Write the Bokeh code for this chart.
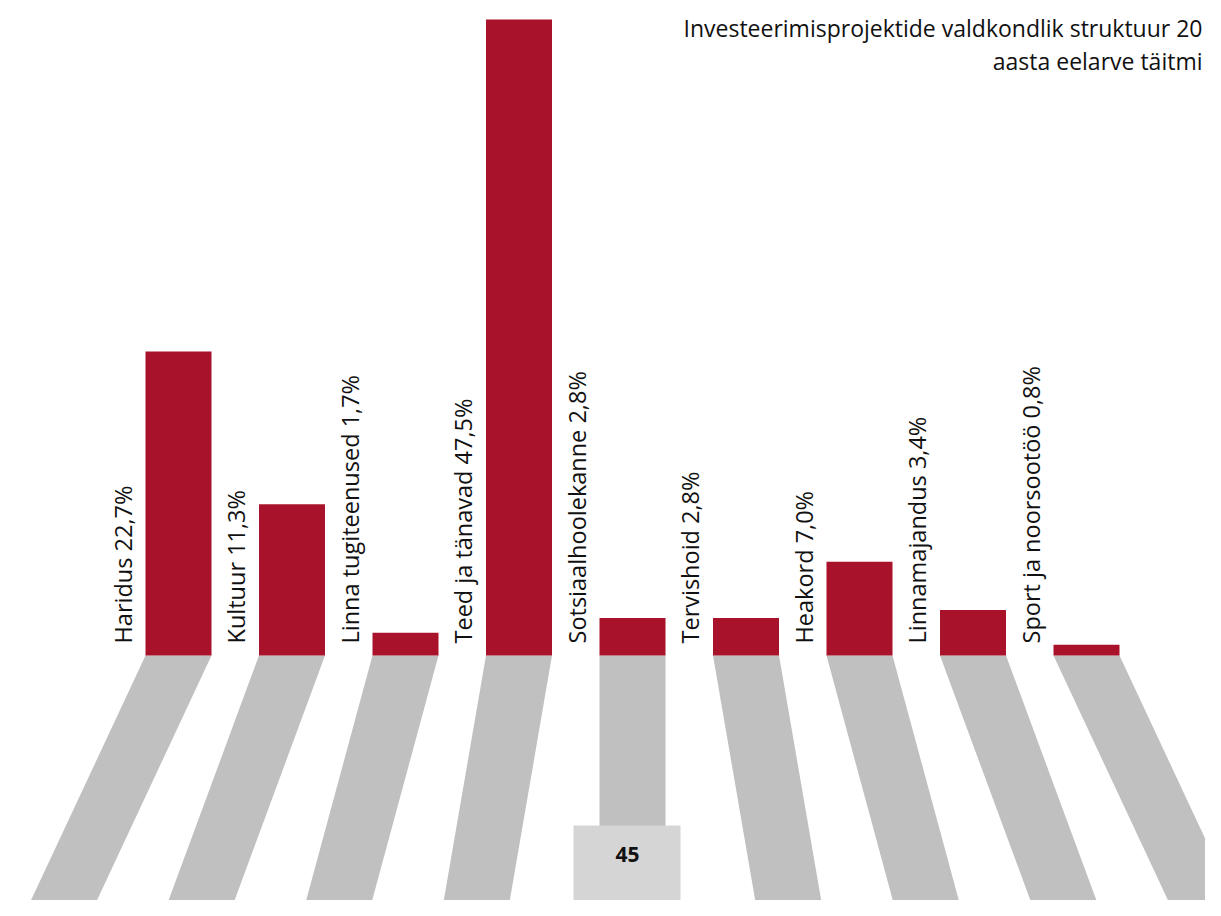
import math
from bokeh.plotting import figure
from bokeh.models import Range1d, ColumnDataSource
from bokeh.core.properties import value
from bokeh.embed import file_html
from bokeh.resources import INLINE

# ---- data ----
categories = ["Haridus", "Kultuur", "Linna tugiteenused", "Teed ja tänavad",
              "Sotsiaalhoolekanne", "Tervishoid", "Heakord", "Linnamajandus",
              "Sport ja noorsootöö"]
shares = [22.7, 11.3, 1.7, 47.5, 2.8, 2.8, 7.0, 3.4, 0.8]
title_lines = ["Investeerimisprojektide valdkondlik struktuur 20", "aasta eelarve täitmi"]
page_number = "45"

# ---- layout / style ----
W, H = 1205, 900
OFF = 0                      # canvas origin in reference pixels
SLOT = 113.5                 # px per category
X0 = 178                     # px centre of first bar
BASE = 655                   # px baseline
PXPCT = 13.39                # px per percent
BAR_W = 66 / SLOT
BAR_COLOR = "#A8132B"
LEG_COLOR = "#C0C0C0"
BOX_COLOR = "#D5D5D5"
FONT = "Open Sans"
TXT_SHIFT = 10               # baseline correction in px

def dx(px):   # px distance -> x data
    return px / SLOT
def dy(px):
    return px / PXPCT
def xp(px):   # ref px -> x data
    return (px - X0) / SLOT
def yp(py):
    return (BASE - py) / PXPCT

p = figure(width=W, height=H, output_backend="svg", toolbar_location=None,
           x_range=Range1d(xp(OFF), xp(OFF + W)), y_range=Range1d(yp(OFF + H), yp(OFF)),
           min_border=0, outline_line_color=None, background_fill_color="white",
           border_fill_color="white")
p.axis.visible = False
p.grid.visible = False

n = len(categories)
mid = (n - 1) / 2
xs = list(range(n))

# grey legs fanning out below the bars
LEG_END = 930
leg_bottom = yp(LEG_END)
leg_xs, leg_ys = [], []
for i in xs:
    d = i - mid
    skew = 0 if d == 0 else math.copysign(19.3 + 25.7 * abs(d), d)
    l, r = i - BAR_W / 2, i + BAR_W / 2
    s = dx(skew * (LEG_END - BASE) / (916 - BASE))
    leg_xs.append([l, r, r + s, l + s])
    leg_ys.append([0, 0, leg_bottom, leg_bottom])
p.patches(leg_xs, leg_ys, fill_color=LEG_COLOR, line_color=None)

# page number box
p.quad(left=[xp(573)], right=[xp(680)], top=[yp(825)], bottom=[yp(LEG_END)],
       fill_color=BOX_COLOR, line_color=None)
p.text(x=[xp(627)], y=[yp(864 - TXT_SHIFT)], text=[page_number], text_align="center",
       text_baseline="alphabetic", text_font=value(FONT), text_font_style="bold",
       text_font_size="21px", text_color="#111111")

# bars
src = ColumnDataSource(dict(x=xs, top=shares,
                            label=[f"{c} {str(v).replace('.', ',')}%" for c, v in zip(categories, shares)],
                            lx=[i - BAR_W / 2 - dx(13 + TXT_SHIFT) for i in xs],
                            ly=[dy(12)] * n))
p.vbar(x="x", top="top", bottom=0, width=BAR_W, source=src,
       fill_color=BAR_COLOR, line_color=None)
p.text(x="lx", y="ly", text="label", source=src, angle=math.pi / 2,
       text_align="left", text_baseline="alphabetic", text_font=value(FONT),
       text_font_size="23.5px", text_color="#111111")

# title, right-aligned at the right edge
p.text(x=[xp(OFF + W - 3)] * 2, y=[yp(37 - TXT_SHIFT), yp(70 - TXT_SHIFT)], text=title_lines,
       text_align="right", text_baseline="alphabetic", text_font=value(FONT),
       text_font_size="23px", text_color="#111111")

open("out.html", "w").write(file_html(p, INLINE))
